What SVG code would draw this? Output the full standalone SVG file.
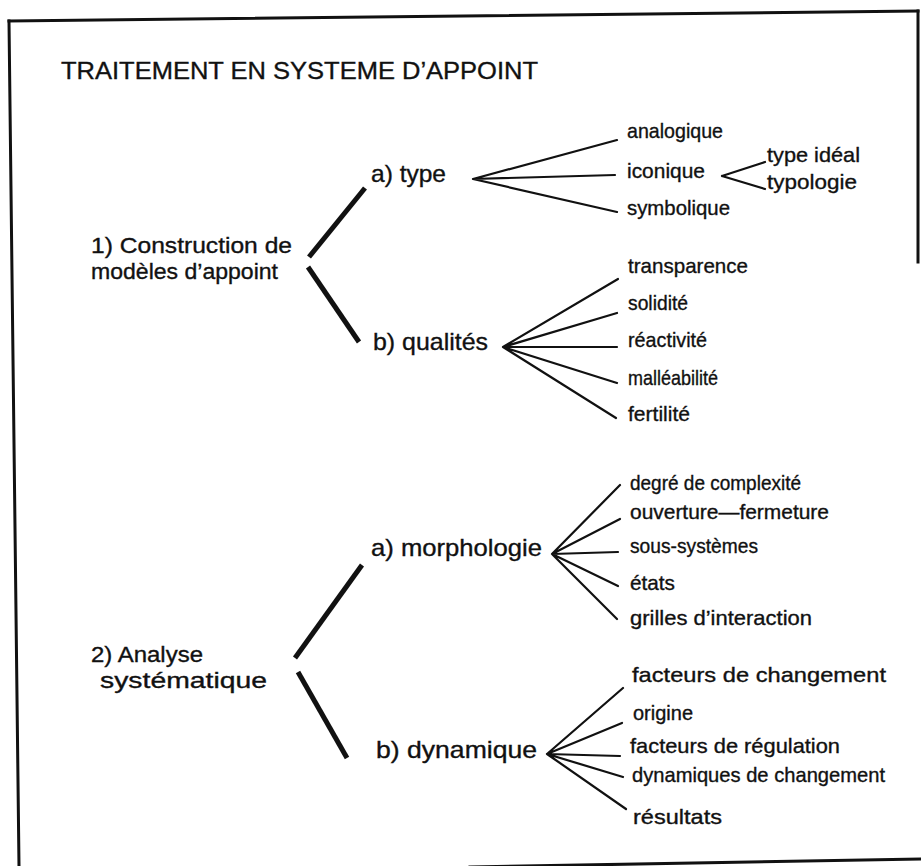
<svg xmlns="http://www.w3.org/2000/svg" width="921" height="866" viewBox="0 0 921 866">
<style>
text{font-family:"Liberation Sans",Arial,Helvetica,sans-serif;fill:#111;stroke:#111;stroke-width:0.35}
.title{font-size:24px}
.n1{font-size:22px}
.n2{font-size:24px}
.lf{font-size:21px}
.frame{stroke:#111;stroke-width:3;fill:none;stroke-linecap:square}
.fork{stroke:#111;stroke-width:5;stroke-linecap:butt;fill:none}
.fan{stroke:#111;stroke-width:2.2;stroke-linecap:round;fill:none}
</style>
<rect width="921" height="866" fill="#fff"/>
<g id="frame">
<path class="frame" d="M9,21 L918,11"/>
<path class="frame" d="M918,11 L918,262"/>
<path class="frame" d="M9,21 L19,866"/>
<path class="frame" d="M470,867 L921,859"/>
</g>
<g id="title"><text class="title" x="61" y="79" textLength="477" lengthAdjust="spacingAndGlyphs">TRAITEMENT EN SYSTEME D’APPOINT</text></g>

<g id="connectors">
<path class="fork" d="M309,257 L365,188"/>
<path class="fork" d="M308,267 L359,342"/>
<path class="fork" d="M295,658 L362,565"/>
<path class="fork" d="M298,672 L347,758"/>
<path class="fan" d="M473,179 L617,140 M473,179 L615,175 M473,179 L617,212"/>
<path class="fan" d="M722,176 L765,162 M722,176 L765,189"/>
<path class="fan" d="M503,347 L618,279 M503,347 L617,313 M503,347 L617,347 M503,347 L617,383 M503,347 L616,418"/>
<path class="fan" d="M552,554 L620,485 M552,554 L620,519 M552,554 L618,552 M552,554 L618,586 M552,554 L617,619"/>
<path class="fan" d="M547,754 L623,688 M547,754 L622,723 M547,754 L620,756 M547,754 L623,777 M547,754 L626,809"/>
</g>

<g id="n-construction"><text class="n1" x="91" y="253" textLength="201" lengthAdjust="spacingAndGlyphs">1) Construction de</text><text class="n1" x="91" y="279" textLength="187" lengthAdjust="spacingAndGlyphs">modèles d’appoint</text></g>
<g id="n-type"><text class="n2" x="371" y="182" textLength="75" lengthAdjust="spacingAndGlyphs">a) type</text></g>
<g id="n-qualites"><text class="n2" x="373" y="350" textLength="115" lengthAdjust="spacingAndGlyphs">b) qualités</text></g>
<g id="n-analyse"><text class="n1" x="91" y="662" textLength="112" lengthAdjust="spacingAndGlyphs">2) Analyse</text><text class="n1" x="100" y="688" textLength="167" lengthAdjust="spacingAndGlyphs">systématique</text></g>
<g id="n-morphologie"><text class="n2" x="371" y="556" textLength="171" lengthAdjust="spacingAndGlyphs">a) morphologie</text></g>
<g id="n-dynamique"><text class="n2" x="376" y="758" textLength="161" lengthAdjust="spacingAndGlyphs">b) dynamique</text></g>

<g id="l-analogique"><text class="lf" x="627" y="138" textLength="96" lengthAdjust="spacingAndGlyphs">analogique</text></g>
<g id="l-iconique"><text class="lf" x="627" y="178" textLength="78" lengthAdjust="spacingAndGlyphs">iconique</text></g>
<g id="l-symbolique"><text class="lf" x="627" y="215" textLength="103" lengthAdjust="spacingAndGlyphs">symbolique</text></g>
<g id="l-typeideal"><text class="lf" x="767" y="162" textLength="93" lengthAdjust="spacingAndGlyphs">type idéal</text></g>
<g id="l-typologie"><text class="lf" x="767" y="189" textLength="90" lengthAdjust="spacingAndGlyphs">typologie</text></g>

<g id="l-transparence"><text class="lf" x="628" y="273" textLength="120" lengthAdjust="spacingAndGlyphs">transparence</text></g>
<g id="l-solidite"><text class="lf" x="628" y="310" textLength="60" lengthAdjust="spacingAndGlyphs">solidité</text></g>
<g id="l-reactivite"><text class="lf" x="628" y="347" textLength="79" lengthAdjust="spacingAndGlyphs">réactivité</text></g>
<g id="l-malleabilite"><text class="lf" x="628" y="385" textLength="90" lengthAdjust="spacingAndGlyphs">malléabilité</text></g>
<g id="l-fertilite"><text class="lf" x="628" y="421" textLength="62" lengthAdjust="spacingAndGlyphs">fertilité</text></g>

<g id="l-degre"><text class="lf" x="630" y="490" textLength="171" lengthAdjust="spacingAndGlyphs">degré de complexité</text></g>
<g id="l-ouverture"><text class="lf" x="630" y="519" textLength="199" lengthAdjust="spacingAndGlyphs">ouverture—fermeture</text></g>
<g id="l-soussystemes"><text class="lf" x="630" y="553" textLength="128" lengthAdjust="spacingAndGlyphs">sous-systèmes</text></g>
<g id="l-etats"><text class="lf" x="630" y="590" textLength="45" lengthAdjust="spacingAndGlyphs">états</text></g>
<g id="l-grilles"><text class="lf" x="630" y="625" textLength="182" lengthAdjust="spacingAndGlyphs">grilles d’interaction</text></g>

<g id="l-facteurschang"><text class="lf" x="632" y="682" textLength="254" lengthAdjust="spacingAndGlyphs">facteurs de changement</text></g>
<g id="l-origine"><text class="lf" x="633" y="720" textLength="60" lengthAdjust="spacingAndGlyphs">origine</text></g>
<g id="l-facteursreg"><text class="lf" x="630" y="753" textLength="210" lengthAdjust="spacingAndGlyphs">facteurs de régulation</text></g>
<g id="l-dynchang"><text class="lf" x="632" y="782" textLength="253" lengthAdjust="spacingAndGlyphs">dynamiques de changement</text></g>
<g id="l-resultats"><text class="lf" x="633" y="824" textLength="89" lengthAdjust="spacingAndGlyphs">résultats</text></g>
</svg>
